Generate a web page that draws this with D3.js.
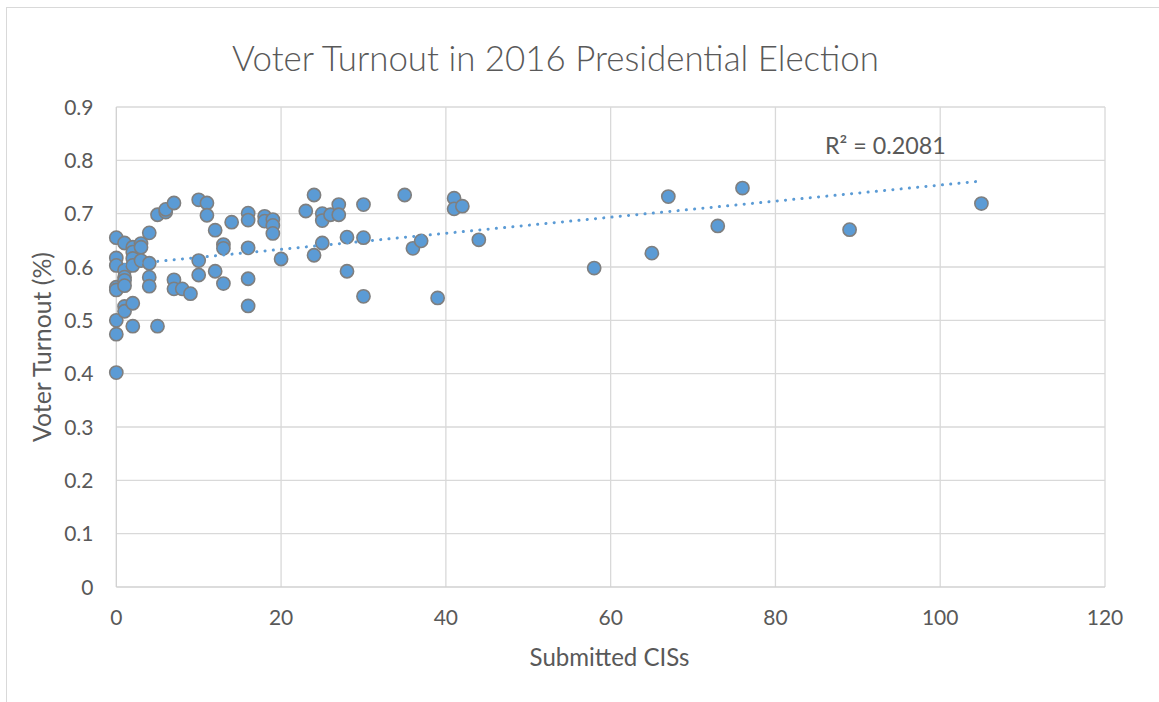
<!DOCTYPE html>
<html><head><meta charset="utf-8">
<script src="https://cdn.jsdelivr.net/npm/d3@7"></script>
<style>body{margin:0;background:#fff}svg{display:block}text{font-family:Lato,"Open Sans",sans-serif;fill:#595959}</style>
</head><body>
<svg id="c" width="1159" height="702"></svg>
<script>
const xValues = [0,0,0,0,0,0,0,0, 1,1,1,1,1,1,1, 2,2,2,2,2,2, 3,3,3, 4,4,4,4, 5,5, 6,6, 7,7,7, 8, 9, 10,10,10, 11,11, 12,12, 13,13,13, 14, 16,16,16,16,16, 18,18, 19,19,19, 20, 23, 24,24, 25,25,25, 26, 27,27, 28,28, 30,30,30, 35, 36, 37, 39, 41,41, 42, 44, 58, 65, 67, 73, 76, 89, 105];
const yValues = [0.655,0.617,0.603,0.562,0.557,0.500,0.474,0.402, 0.645,0.594,0.581,0.575,0.565,0.526,0.517, 0.637,0.628,0.616,0.603,0.532,0.489, 0.644,0.637,0.612, 0.664,0.607,0.581,0.564, 0.698,0.489, 0.703,0.708, 0.720,0.576,0.559, 0.559, 0.550, 0.726,0.612,0.585, 0.720,0.697, 0.669,0.592, 0.642,0.635,0.569, 0.684, 0.701,0.688,0.636,0.578,0.527, 0.695,0.686, 0.689,0.678,0.663, 0.615, 0.705, 0.735,0.622, 0.700,0.687,0.645, 0.698, 0.717,0.698, 0.656,0.592, 0.717,0.655,0.545, 0.735, 0.635, 0.649, 0.542, 0.729,0.709, 0.714, 0.651, 0.598, 0.626, 0.732, 0.677, 0.748, 0.670, 0.719];
const xTicks = [0,20,40,60,80,100,120];
const yTicks = [0,0.1,0.2,0.3,0.4,0.5,0.6,0.7,0.8,0.9];
const titleText = "Voter Turnout in 2016 Presidential Election";
const xTitle = "Submitted CISs";
const yTitle = "Voter Turnout (%)";
const r2Label = "R² = 0.2081";

const svg = d3.select("#c");
const L = 116.3, R = 1105, T = 107, B = 587;
const x = d3.scaleLinear().domain([0,120]).range([L,R]);
const y = d3.scaleLinear().domain([0,0.9]).range([B,T]);

svg.append("rect").attr("x",6.5).attr("y",7.5).attr("width",1200).attr("height",800)
  .attr("fill","none").attr("stroke","#d9d9d9").attr("stroke-width",1);

function fit(sel, target){
  const w = sel.node().getComputedTextLength();
  const fs = parseFloat(sel.attr("font-size"));
  sel.attr("font-size", fs*target/w);
}

svg.append("g").selectAll("line").data(yTicks.slice(1)).join("line")
  .attr("x1",L).attr("x2",R).attr("y1",d=>y(d)).attr("y2",d=>y(d))
  .attr("stroke","#d9d9d9").attr("stroke-width",1.3);
svg.append("g").selectAll("line").data(xTicks.slice(1)).join("line")
  .attr("y1",T).attr("y2",B).attr("x1",d=>x(d)).attr("x2",d=>x(d))
  .attr("stroke","#d9d9d9").attr("stroke-width",1.3);
svg.append("line").attr("x1",L).attr("x2",R).attr("y1",B).attr("y2",B).attr("stroke","#d0d0d0").attr("stroke-width",1.3);
svg.append("line").attr("x1",L).attr("x2",L).attr("y1",T).attr("y2",B).attr("stroke","#d0d0d0").attr("stroke-width",1.3);

svg.append("g").selectAll("text").data(yTicks).join("text")
  .attr("x",93.5).attr("y",d=>y(d)).attr("dy","0.36em").attr("text-anchor","end")
  .attr("font-size",21).text(d=>d3.format("")(+d.toFixed(1)));
svg.append("g").selectAll("text").data(xTicks).join("text")
  .attr("x",d=>x(d)).attr("y",625).attr("text-anchor","middle")
  .attr("font-size",21).text(d=>d);

svg.append("g").selectAll("circle").data(xValues.map((v,i)=>[v,yValues[i]])).join("circle")
  .attr("cx",d=>x(d[0])).attr("cy",d=>y(d[1])).attr("r",6.6)
  .attr("fill","#5b9bd5").attr("stroke","#7f7f7f").attr("stroke-width",1.6);

const mx = d3.mean(xValues), my = d3.mean(yValues);
let sxy=0, sxx=0;
xValues.forEach((v,i)=>{sxy+=(v-mx)*(yValues[i]-my); sxx+=(v-mx)*(v-mx);});
const slope = sxy/sxx, icpt = my - slope*mx;
const x0 = d3.min(xValues), x1 = d3.max(xValues);
svg.append("line").attr("x1",x(x0)).attr("y1",y(icpt+slope*x0)).attr("x2",x(x1)).attr("y2",y(icpt+slope*x1))
  .attr("stroke","#5b9bd5").attr("stroke-width",3).attr("stroke-linecap","round")
  .attr("stroke-dasharray","0.1 8.2");

const rl = svg.append("text").attr("x",825).attr("y",154).attr("font-size",21).text(r2Label);
fit(rl,121);

const tt = svg.append("text").attr("x",555.5).attr("y",71).attr("text-anchor","middle").attr("font-size",32).attr("font-weight",300).text(titleText);
fit(tt,647);
const xt = svg.append("text").attr("x",609.5).attr("y",666).attr("text-anchor","middle").attr("font-size",21).text(xTitle);
fit(xt,160);
const ytt = svg.append("text").attr("transform","translate(51,347) rotate(-90)").attr("text-anchor","middle").attr("font-size",21).text(yTitle);
fit(ytt,190);
</script>
</body></html>
